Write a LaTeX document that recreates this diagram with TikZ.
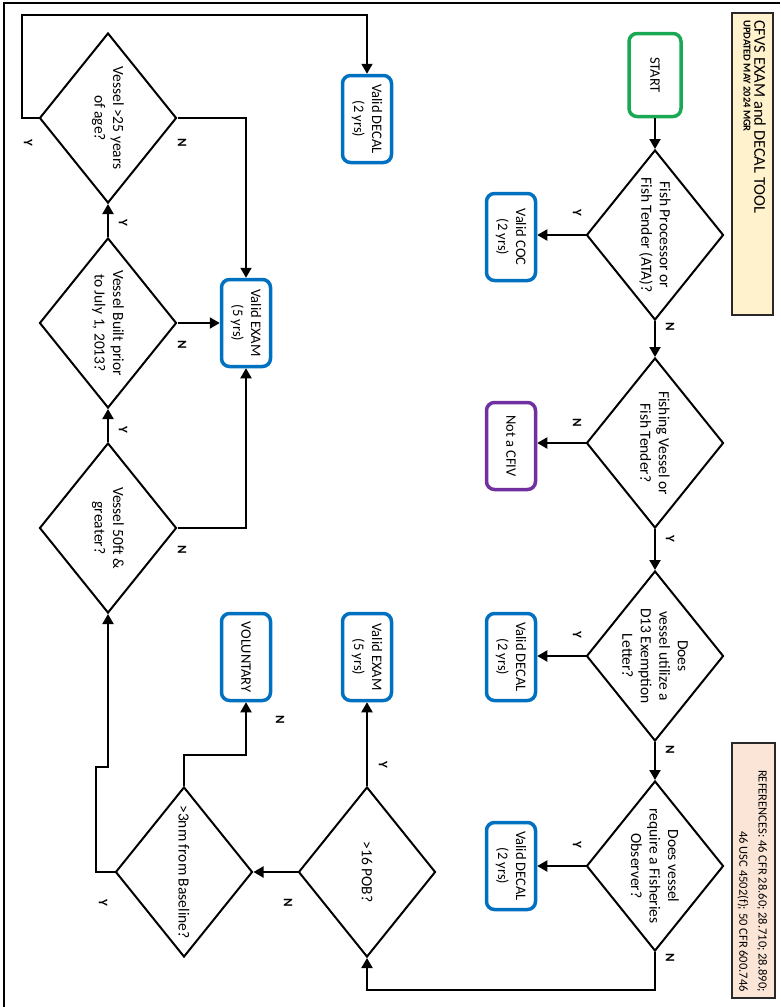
\documentclass[tikz,border=0pt]{standalone}
\usepackage{fontspec}
\setmainfont{Carlito}
\usetikzlibrary{shapes.geometric,arrows.meta}
\definecolor{boxblue}{RGB}{0,112,192}
\definecolor{startgreen}{RGB}{26,168,84}
\definecolor{cfivpurple}{RGB}{112,48,160}
\definecolor{titlefill}{RGB}{255,242,204}
\definecolor{reffill}{RGB}{251,229,214}
\definecolor{framegray}{RGB}{40,40,40}
\tikzset{
  conn/.style={draw=black, line width=2pt},
  arr/.style={conn, -{Triangle[length=10pt,width=11pt]}},
  endbox/.style={draw=boxblue, rounded corners=8pt, line width=3.5pt,
    minimum width=49pt, minimum height=87pt, inner sep=0pt, fill=white},
  dia/.style={diamond, draw=black, line width=2pt, minimum width=137pt,
    minimum height=170pt, inner sep=0pt},
  txt/.style={rotate=-90, align=center, inner sep=0pt,
    font=\fontsize{14.5}{18}\selectfont},
  dtxt/.style={txt, font=\fontsize{15.5}{18.5}\selectfont},
  yn/.style={rotate=-90, inner sep=0pt, font=\bfseries\fontsize{13}{14}\selectfont},
}
\begin{document}
\begin{tikzpicture}[x=1pt, y=-1pt]
\useasboundingbox (0,0) rectangle (780,1007);
\fill[white] (0,0) rectangle (780,1007);
% frame (top and left edges)
\draw[line width=2.5pt] (4,1007) -- (4,3) -- (780,3);

% title and references boxes
\draw[draw=framegray, line width=1.5pt, fill=titlefill] (732,13) rectangle (773,315);
\node[rotate=-90, anchor=west, inner sep=0pt, font=\fontsize{16.5}{18}\selectfont] (title) at (760,20) {CFVS EXAM and DECAL TOOL};
\node[rotate=-90, anchor=west, inner sep=0pt, font=\bfseries\fontsize{10.5}{11}\selectfont] (subtitle) at (747,20) {UPDATED MAY 2024 MGR};
\draw[draw=framegray, line width=1.5pt, fill=reffill] (732,743) rectangle (775,998);
\node[rotate=-90, anchor=east, inner sep=0pt, font=\fontsize{12.5}{14}\selectfont] (ref1) at (762,992) {REFERENCES: 46 CFR 28.60; 28.710; 28.890;};
\node[rotate=-90, anchor=east, inner sep=0pt, font=\fontsize{12.5}{14}\selectfont] (ref2) at (743,992) {46 USC 4502(f); 50 CFR 600.746};

% start
\node[endbox, draw=startgreen, minimum width=52pt, minimum height=83pt] (start) at (655,75) {};
\node[txt] (startt) at (start) {START};

% right column diamonds
\node[dia] (d1) at (655,235) {};
\node[dtxt] (d1t) at (d1) {Fish Processor or\\Fish Tender (ATA)?};
\node[dia] (d2) at (655,443) {};
\node[dtxt] (d2t) at (d2) {Fishing Vessel or\\Fish Tender?};
\node[dia] (d3) at (655,656) {};
\node[dtxt] (d3t) at (d3) {Does\\vessel utilize a\\D13 Exemption\\Letter?};
\node[dia] (d4) at (655,866) {};
\node[dtxt] (d4t) at (d4) {Does vessel\\require a Fisheries\\Observer?};

% outcome boxes, middle column
\node[endbox] (coc) at (511,237) {};
\node[txt] (coct) at (coc) {Valid COC\\(2 yrs)};
\node[endbox, draw=cfivpurple] (notcfiv) at (511,446) {};
\node[txt] (notcfivt) at (notcfiv) {Not a CFIV};
\node[endbox] (decal1) at (511,657) {};
\node[txt] (decal1t) at (decal1) {Valid DECAL\\(2 yrs)};
\node[endbox] (decal2) at (511,866) {};
\node[txt] (decal2t) at (decal2) {Valid DECAL\\(2 yrs)};

% left region boxes
\node[endbox] (decal3) at (367,119) {};
\node[txt] (decal3t) at (decal3) {Valid DECAL\\(2 yrs)};
\node[endbox] (exam1) at (246,323) {};
\node[txt] (exam1t) at (exam1) {Valid EXAM\\(5 yrs)};
\node[endbox] (exam2) at (367,657) {};
\node[txt] (exam2t) at (exam2) {Valid EXAM\\(5 yrs)};
\node[endbox] (vol) at (246,657) {};
\node[txt] (volt) at (vol) {VOLUNTARY};

% left region diamonds
\node[dia] (d25) at (108,118) {};
\node[dtxt] (d25t) at (d25) {Vessel >25 years\\of age?};
\node[dia] (dbuilt) at (108,323) {};
\node[dtxt] (dbuiltt) at (dbuilt) {Vessel Built prior\\to July 1, 2013?};
\node[dia] (d50) at (108,528) {};
\node[dtxt] (d50t) at (d50) {Vessel 50ft \&\\greater?};
\node[dia] (dpob) at (367,872) {};
\node[dtxt] (dpobt) at (dpob) {>16 POB?};
\node[dia] (d3nm) at (184,872) {};
\node[dtxt] (d3nmt) at (d3nm) {>3nm from Baseline?};

% bend points
\coordinate (c1) at (655,990);
\coordinate (c2) at (184,755);
\coordinate (c3) at (96,767);
\coordinate (c4) at (22,15);

% connectors, right column
\draw[arr] (start.south) -- (d1.north);
\draw[arr] (d1.west) -- (d1.west -| coc.east);
\draw[arr] (d1.south) -- (d2.north);
\draw[arr] (d2.west) -- (d2.west -| notcfiv.east);
\draw[arr] (d2.south) -- (d3.north);
\draw[arr] (d3.west) -- (d3.west -| decal1.east);
\draw[arr] (d3.south) -- (d4.north);
\draw[arr] (d4.west) -- (d4.west -| decal2.east);
\draw[arr] (d4.south) -- (c1) -| (dpob.south);

% connectors, lower region
\draw[arr] (dpob.north) -- (exam2.south);
\draw[arr] (dpob.west) -- (d3nm.east);
\draw[arr] (d3nm.north) -- (c2) -| (vol.south);
\draw[arr] (d3nm.west) -| (c3) -| (d50.south);
\draw[arr] (d50.north) -- (dbuilt.south);
\draw[arr] (d50.east) -| (exam1.south);
\draw[arr] (dbuilt.east) -- (exam1.west);
\draw[arr] (dbuilt.north) -- (d25.south);
\draw[arr] (d25.east) -| (exam1.north);
\draw[arr] (d25.west) -| (c4) -| (decal3.north);

% Y / N labels
\node[yn] (l1) at (577,213) {Y};
\node[yn] (l2) at (670,327) {N};
\node[yn] (l3) at (577,423) {N};
\node[yn] (l4) at (670,539) {Y};
\node[yn] (l5) at (577,635) {Y};
\node[yn] (l6) at (670,750) {N};
\node[yn] (l7) at (577,845) {Y};
\node[yn] (l8) at (670,958) {N};
\node[yn] (l9) at (28,143) {Y};
\node[yn] (l10) at (182,143) {N};
\node[yn] (l11) at (123,223) {Y};
\node[yn] (l12) at (182,345) {N};
\node[yn] (l13) at (123,430) {Y};
\node[yn] (l14) at (182,550) {N};
\node[yn] (l15) at (383,765) {Y};
\node[yn] (l16) at (288,903) {N};
\node[yn] (l17) at (280,720) {N};
\node[yn] (l18) at (103,903) {Y};
\end{tikzpicture}
\end{document}
